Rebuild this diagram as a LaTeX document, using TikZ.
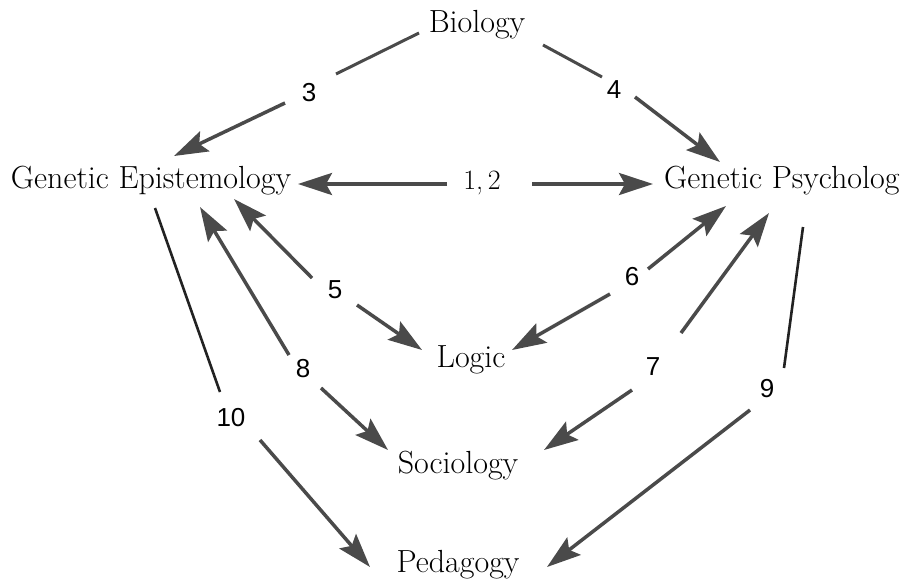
\documentclass[tikz,border=0pt]{standalone}
\usepackage{fontspec}
\newfontfamily\numfont{Liberation Sans}
\usetikzlibrary{arrows.meta}
\definecolor{arrgray}{HTML}{4a4a4a}
\definecolor{linegray}{HTML}{222222}
\begin{document}
\begin{tikzpicture}[x=1pt,y=-1pt,
  term/.style={font=\fontsize{32}{38}\selectfont, inner sep=0pt, anchor=base},
  num/.style={font=\numfont\fontsize{26}{30}\selectfont, inner sep=0pt},
  arr/.style={draw=arrgray, line width=3.5pt, -{Stealth[length=34pt,width=22pt,inset=6pt]}},
  plain/.style={draw=linegray, line width=2.6pt}
]
\useasboundingbox (0,0) rectangle (907,581);
\fill[white] (0,0) rectangle (907,581);
% terms
\node[term] (bio) at (477,32) {Biology};
\node[term] (ge) at (151,188) {Genetic Epistemology};
\node[term, anchor=base west] (gp) at (664,188) {Genetic Psycholog};
\node[term] (logic) at (471,367) {Logic};
\node[term] (soc) at (458,473) {Sociology};
\node[term] (ped) at (458,572) {Pedagogy};
% labels
\node[num] (n3) at (309,92.5) {3};
\node[num] (n4) at (614,89.5) {4};
\node[term, font=\fontsize{28}{34}\selectfont] (n12) at (482,189) {1,\,2};
\node[num] (n5) at (335,290) {5};
\node[num] (n6) at (632,277) {6};
\node[num] (n8) at (303,369) {8};
\node[num] (n7) at (653,367) {7};
\node[num] (n9) at (767,389) {9};
\node[num] (n10) at (231,418) {10};
% segment end points
\coordinate (a3) at (419,33);  \coordinate (b3) at (336,74);
\coordinate (c3) at (285,103); \coordinate (d3) at (174,156);
\coordinate (a4) at (543,45);  \coordinate (b4) at (602,77);
\coordinate (c4) at (635,97);  \coordinate (d4) at (720,162);
\coordinate (a12) at (447,184); \coordinate (b12) at (298,184);
\coordinate (c12) at (532,184); \coordinate (d12) at (653,184);
\coordinate (a5) at (312,278); \coordinate (b5) at (234,199);
\coordinate (c5) at (357,305); \coordinate (d5) at (422,350);
\coordinate (a6) at (648,269); \coordinate (b6) at (726,206);
\coordinate (c6) at (610,294); \coordinate (d6) at (512,350);
\coordinate (a8) at (289,355); \coordinate (b8) at (200,207);
\coordinate (c8) at (321,388); \coordinate (d8) at (388,450);
\coordinate (a7) at (681,333); \coordinate (b7) at (769,213);
\coordinate (c7) at (632,390); \coordinate (d7) at (544,450);
\coordinate (a9) at (803,227); \coordinate (b9) at (784,368);
\coordinate (c9) at (750,410); \coordinate (d9) at (547,567);
\coordinate (a10) at (155,208); \coordinate (b10) at (220,392);
\coordinate (c10) at (260,440); \coordinate (d10) at (370,567);
% connectors
\draw[plain, draw=arrgray, line width=3pt] (a3) -- (b3);
\draw[arr] (c3) -- (d3);
\draw[plain, draw=arrgray, line width=3pt] (a4) -- (b4);
\draw[arr] (c4) -- (d4);
\draw[arr] (a12) -- (b12);
\draw[arr] (c12) -- (d12);
\draw[arr] (a5) -- (b5);
\draw[arr] (c5) -- (d5);
\draw[arr] (a6) -- (b6);
\draw[arr] (c6) -- (d6);
\draw[arr] (a8) -- (b8);
\draw[arr] (c8) -- (d8);
\draw[arr] (a7) -- (b7);
\draw[arr] (c7) -- (d7);
\draw[plain] (a9) -- (b9);
\draw[arr] (c9) -- (d9);
\draw[plain] (a10) -- (b10);
\draw[arr] (c10) -- (d10);
\end{tikzpicture}
\end{document}
